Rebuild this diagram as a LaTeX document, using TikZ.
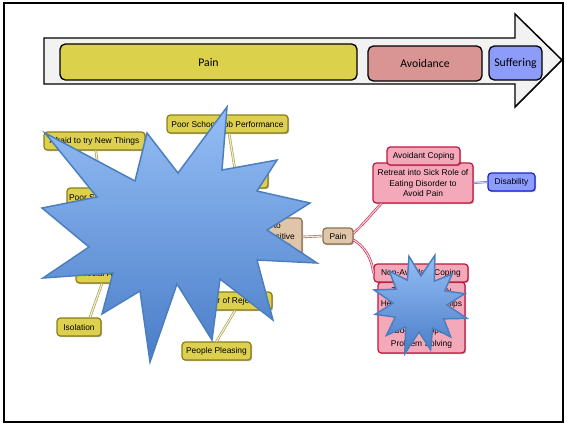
\documentclass[tikz,border=0pt]{standalone}
\usepackage{fontspec}
\newfontfamily\mapfont{Liberation Sans}
\newfontfamily\barfont{Carlito}
\usetikzlibrary{shadows,calc}

\definecolor{arrowfill}{HTML}{F2F2F2}
\definecolor{painbar}{HTML}{DCD14B}
\definecolor{avoidbar}{HTML}{D99594}
\definecolor{suffbar}{HTML}{8C9CF8}
\definecolor{ylwfill}{HTML}{DDD04E}
\definecolor{ylwline}{HTML}{8B7E18}
\definecolor{ylwlink}{HTML}{A49A48}
\definecolor{ylwcore}{HTML}{F4F0CC}
\definecolor{pnkfill}{HTML}{F3A9BA}
\definecolor{pnkline}{HTML}{C4173F}
\definecolor{pnkcore}{HTML}{F9D3DC}
\definecolor{tanfill}{HTML}{DFC5A9}
\definecolor{tanline}{HTML}{8E6F50}
\definecolor{tancore}{HTML}{F5EBDF}
\definecolor{blufill}{HTML}{8D9CFF}
\definecolor{bluline}{HTML}{1C22D4}
\definecolor{starlight}{HTML}{95BEF5}
\definecolor{stardark}{HTML}{4A7DC8}
\definecolor{starline}{HTML}{4A7EBF}

\begin{document}
\begin{tikzpicture}[x=0.75pt,y=-0.75pt,
  sz/.style 2 args={minimum width=#1*0.75pt, minimum height=#2*0.75pt},
  barbox/.style={draw=black, line width=1pt, rounded corners=4pt, inner sep=0pt,
    font=\barfont\fontsize{8.8}{10}\selectfont},
  mapbox/.style={rounded corners=2.5pt, line width=0.9pt, inner sep=0pt, align=center,
    font=\mapfont\fontsize{6.3}{8.2}\selectfont,
    drop shadow={shadow xshift=0.9pt, shadow yshift=-0.9pt, opacity=0.3, fill=black}},
  ybox/.style={mapbox, fill=ylwfill, draw=ylwline},
  pbox/.style={mapbox, fill=pnkfill, draw=pnkline},
  tbox/.style={mapbox, fill=tanfill, draw=tanline},
  bbox/.style={mapbox, fill=blufill, draw=bluline},
  ylink/.style={draw=ylwlink, double=ylwcore, line width=0.45pt, double distance=0.9pt},
  plink/.style={draw=pnkline, double=pnkcore, line width=0.45pt, double distance=0.9pt},
  tlink/.style={draw=tanline, double=tancore, line width=0.45pt, double distance=0.9pt},
  blink/.style={draw=bluline!70, double=blufill!40, line width=0.4pt, double distance=0.7pt},
  burst/.style={top color=starlight, bottom color=stardark, draw=starline, line width=1.1pt, line join=miter}
]
\useasboundingbox (0,0) rectangle (567,426);
\fill[white] (0,0) rectangle (567,426);

% outer frame
\draw[line width=1.5pt] (4,3) rectangle (563,422);

% process arrow with its three stages
\draw[fill=arrowfill, line width=1.1pt, line join=miter]
  (44,38) -- (515,38) -- (515,14) -- (562,60) -- (515,107) -- (515,84) -- (44,84) -- cycle;
\node[barbox, fill=painbar, sz={297}{36}] (barpain) at (208.5,62) {Pain};
\node[barbox, fill=avoidbar, sz={114}{35}] (baravoid) at (425,63.5) {Avoidance};
\node[barbox, fill=suffbar, sz={53}{34}] (barsuff) at (515.5,63) {Suffering};

% mind map: causes
\node[ybox, sz={101}{18}] (afraid) at (94.5,141) {Afraid to try New Things};
\node[ybox, sz={121}{18}] (school) at (227.5,124) {Poor School/Job Performance};
\node[ybox, sz={63}{18}] (perfect) at (236.5,179) {Perfectionism};
\node[ybox, sz={70}{18}] (selfest) at (102,197) {Poor Self-Esteem};
\node[ybox, sz={64}{18}] (social) at (108,274) {Social Anxiety};
\node[ybox, sz={44}{18}] (isolation) at (79,327) {Isolation};
\node[ybox, sz={74}{18}] (fear) at (235,301) {Fear of Rejection};
\node[ybox, sz={69}{18}] (people) at (216.5,351) {People Pleasing};
\node[tbox, sz={74}{38}] (core) at (265,237) {Prone to\\Highly Sensitive\\Temperament};
\node[tbox, sz={30}{16}] (pain) at (338,236) {Pain};

% mind map: coping branches
\node[pbox, sz={100}{40}] (retreat) at (423,183) {Retreat into Sick Role of\\Eating Disorder to\\Avoid Pain};
\node[pbox, sz={73}{18}] (avtab) at (423.5,156) {Avoidant Coping};
\node[bbox, sz={47}{18}] (disability) at (511.5,182) {Disability};
\node[pbox, sz={87}{71}, font=\mapfont\fontsize{6.3}{10}\selectfont] (nonav) at (421.5,317.5)
  {Tolerate Anxiety\\Healthy Relationships\\Assertiveness\\Social Support\\Problem Solving};
\node[pbox, sz={94}{18}] (natab) at (421,273) {Non-Avoidant Coping};

% connectors
\draw[ylink] (afraid) -- (selfest);
\draw[ylink] (school) -- (perfect);
\draw[ylink] ($(social.south)+(-6,0)$) -- ($(isolation.north)+(11,0)$);
\draw[ylink] (fear.south) -- (people.north);
\draw[tlink] (core.east) -- (pain.west);
\draw[plink] ($(pain.east)+(0,-3)$) .. controls (364,224) and (373,212) .. ($(retreat.south west)+(9,0)$);
\draw[plink] ($(pain.east)+(0,4)$) .. controls (364,246) and (372,258) .. (natab.west);
\draw[blink] (retreat.east) -- (disability.west);

% large burst
\path[burst] (227,107) -- (222,170) -- (277,160) -- (257,191) -- (310,203) -- (267,230)
  -- (317,263) -- (257,260) -- (273,320) -- (220,279) -- (212,340) -- (177,284)
  -- (150,362) -- (140,291) -- (102,314) -- (113,273) -- (43,278) -- (89,247)
  -- (42,208) -- (97,197) -- (45,133) -- (135,181) -- (147,133) -- (178,173) -- cycle;

% small burst
\begin{scope}[shift={(420,304)}]
\path[burst] (-73:51) -- (-58:27) -- (-43:44) -- (-28:28) -- (-13:46) -- (2:27)
  -- (17:49) -- (32:28) -- (47:45) -- (62:27) -- (77:47) -- (92:28)
  -- (107:52) -- (122:27) -- (137:46) -- (152:28) -- (167:46) -- (182:27)
  -- (197:48) -- (212:28) -- (227:45) -- (242:27) -- (257:49) -- (272:28) -- cycle;
\end{scope}
\end{tikzpicture}
\end{document}
